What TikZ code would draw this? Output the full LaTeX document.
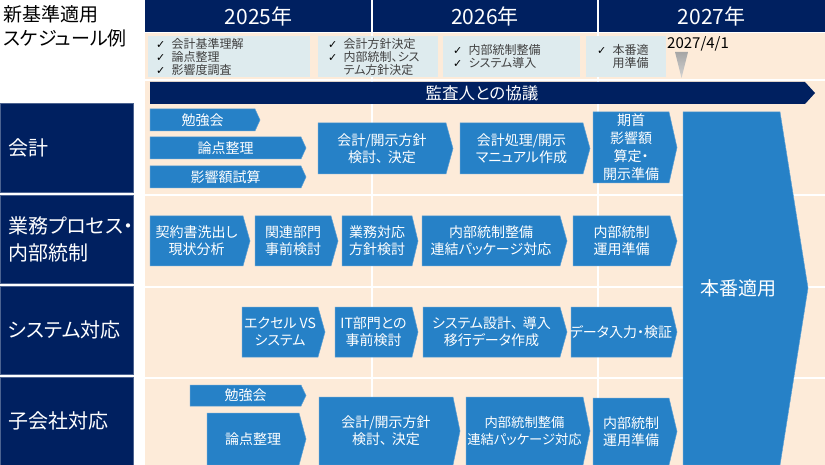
\documentclass[tikz,border=0pt]{standalone}
\usepackage{fontspec}
\setmainfont{Noto Sans CJK JP}[RawFeature=+palt]
\newfontfamily\djv{DejaVu Sans}
\definecolor{navy}{RGB}{0,32,96}
\definecolor{chevblue}{RGB}{38,129,199}
\definecolor{cream}{RGB}{253,235,217}
\definecolor{ckfill}{RGB}{222,235,238}
\definecolor{ckgray}{RGB}{64,64,64}
\newcommand\ck{\makebox[15.5pt][l]{\djv\fontsize{11}{13}\selectfont\color{black}✓}}
\newcommand\ckind{\hspace*{15.5pt}}
\newcommand\tc{、\hspace{0.35em}}
\tikzset{
  chevfill/.style={fill=chevblue, draw=chevblue!75!white, line width=0.5pt},
  chevtext/.style={text=white, align=center, font=\fontsize{14}{17}\selectfont, inner sep=0pt},
  lblbox/.style={fill=navy, draw=navy!70!white, line width=0.6pt},
  lbl/.style={text=white, anchor=west, align=left, font=\fontsize{20}{27}\selectfont, inner sep=0pt},
  yr/.style={text=white, font=\fontsize{21}{24}\selectfont, inner sep=0pt},
  ckbox/.style={fill=ckfill, anchor=north west, minimum height=41pt, inner ysep=0pt, align=left, text=ckgray, font=\fontsize{12}{13}\selectfont},
  gridline/.style={white, line width=1.6pt}
}
\newcommand\chv[7]{%
  \fill[chevfill] (#2,#3) -- ({#4-#6},#3) -- (#4,{(#3+#5)/2}) -- ({#4-#6},#5) -- (#2,#5) -- cycle;
  \node[chevtext] (#1) at ({(#2+#4-#6)/2},{(#3+#5)/2}) {#7};}
\begin{document}
\begin{tikzpicture}[x=1pt,y=-1pt]
\useasboundingbox (0,0) rectangle (825,465);
\fill[white] (0,0) rectangle (825,465);
% cream area and grid
\fill[cream] (145,33) rectangle (825,465);
\draw[gridline] (372,33) -- (372,465);
\draw[gridline] (598,33) -- (598,465);
\draw[gridline] (145,80) -- (825,80);
\draw[gridline] (145,195) -- (825,195);
\draw[gridline] (145,287) -- (825,287);
\draw[gridline] (145,378) -- (825,378);
% header
\fill[navy] (145,0) rectangle (825,32);
\draw[white, line width=1.2pt] (372,0) -- (372,32);
\draw[white, line width=1.2pt] (598,0) -- (598,32);
\node[yr] (y25) at (258.5,16) {2025年};
\node[yr] (y26) at (485,16) {2026年};
\node[yr] (y27) at (711.5,16) {2027年};
% title
\node[anchor=north west, align=left, inner sep=0pt, font=\fontsize{19}{24}\selectfont] (title) at (3,5) {新基準適用\\スケジュール例};
% left labels
\fill[lblbox] (0,103) rectangle (133,192);
\fill[lblbox] (0,195) rectangle (133,283);
\fill[lblbox] (0,286) rectangle (133,374);
\fill[lblbox] (0,377) rectangle (133,465);
\node[lbl] (l1) at (8,148) {会計};
\node[lbl] (l2) at (8,239) {業務プロセス・\\内部統制};
\node[lbl] (l3) at (8,330) {システム対応};
\node[lbl] (l4) at (8,421) {子会社対応};
% check boxes
\node[ckbox, inner xsep=8pt, text width=146pt, minimum width=162pt] (cb1) at (148,36) {\ck 会計基準理解\\\ck 論点整理\\\ck 影響度調査};
\node[ckbox, inner xsep=10pt, text width=100pt, minimum width=120pt] (cb2) at (318,36) {\ck 会計方針決定\\\ck 内部統制、シス\\\ckind テム方針決定};
\node[ckbox, inner xsep=10pt, text width=117pt, minimum width=137pt] (cb3) at (443,36) {\ck 内部統制整備\\\ck システム導入};
\node[ckbox, inner xsep=11pt, text width=58pt, minimum width=80pt] (cb4) at (586,36) {\ck 本番適\\\ckind 用準備};
% date marker
\node[anchor=base west, inner sep=0pt, font=\fontsize{15}{18}\selectfont] (date) at (667,49) {2027/4/1};
\shade[top color=gray!70, bottom color=gray!35] (675,52) -- (688,52) -- (681.5,78) -- cycle;
\coordinate (mark) at (681.5,78);
% auditor band
\fill[navy] (150,82) -- (805,82) -- (815,93) -- (805,104) -- (150,104) -- cycle;
\node[text=white, inner sep=0pt, font=\fontsize{16.5}{20}\selectfont] (band) at (482,93) {監査人との協議};
% row 1
\chv{a1}{150}{109}{260}{131}{5}{勉強会}
\chv{a2}{150}{137}{306}{159}{5}{論点整理}
\chv{a3}{150}{166}{306}{188}{5}{影響額試算}
\chv{a4}{318}{123}{453}{174}{7}{会計/開示方針\\検討\tc 決定}
\chv{a5}{460}{123}{590}{174}{7}{会計処理/開示\\マニュアル作成}
\fill[chevfill] (593,112) -- (669,112) -- (677,147.5) -- (669,183) -- (593,183) -- cycle;
\node[chevtext, font=\fontsize{14}{18}\selectfont] (a6) at (631,147.5) {期首\\影響額\\算定・\\開示準備};
% row 2
\chv{b1}{150}{216}{250}{266}{7}{契約書洗出し\\現状分析}
\chv{b2}{255}{216}{338}{266}{7}{関連部門\\事前検討}
\chv{b3}{342}{216}{418}{266}{6}{業務対応\\方針検討}
\chv{b4}{422}{216}{567}{266}{7}{内部統制整備\\連結パッケージ対応}
\chv{b5}{573}{216}{677}{266}{7}{内部統制\\運用準備}
% row 3
\chv{c1}{242}{307}{325}{357}{7}{エクセル VS\\システム}
\chv{c2}{335}{307}{418}{357}{6}{IT部門との\\事前検討}
\chv{c3}{423}{307}{567}{357}{7}{システム設計\tc 導入\\移行データ作成}
\chv{c4}{571}{307}{677}{357}{6}{データ入力・検証}
% row 4
\chv{d1}{190}{385}{306}{406}{5}{勉強会}
\chv{d2}{207}{413}{306}{465}{7}{論点整理}
\chv{d3}{319}{397}{460}{465}{7}{会計/開示方針\\検討\tc 決定}
\fill[chevfill] (466,397) -- (583,397) -- (590,431) -- (583,465) -- (466,465) -- cycle;
\node[chevtext, font=\fontsize{13.3}{17}\selectfont] (d4) at (524.5,431) {内部統制整備\\連結パッケージ対応};
\chv{d5}{593}{398}{677}{465}{8}{内部統制\\運用準備}
% go-live
\fill[chevfill] (683,112) -- (780,112) -- (808,288) -- (780,465) -- (683,465) -- cycle;
\node[text=white, inner sep=0pt, font=\fontsize{19}{22}\selectfont] (golive) at (738,288) {本番適用};
\end{tikzpicture}
\end{document}
